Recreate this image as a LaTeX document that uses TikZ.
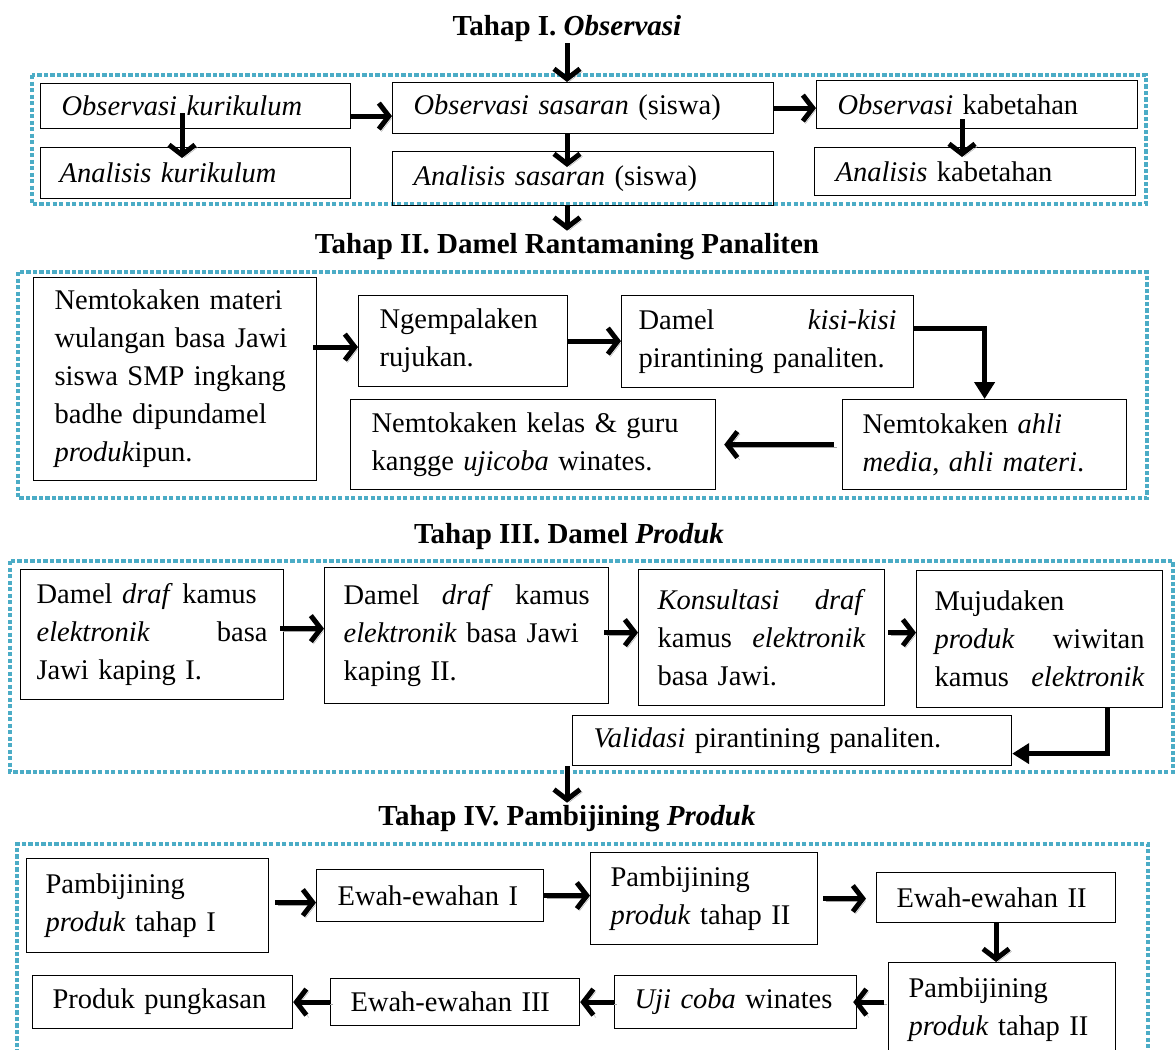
\documentclass[tikz,border=0pt]{standalone}
\usepackage{fontspec}
\setmainfont{Liberation Serif}
\usetikzlibrary{arrows.meta, calc}
\definecolor{biru}{RGB}{75,172,198}

\begin{document}
\begin{tikzpicture}[x=1pt, y=-1pt,
  kotak/.style={draw, line width=1.2pt, anchor=north west, align=left,
    inner xsep=21pt, inner ysep=0pt, font=\fontsize{28.5}{38}\selectfont},
  judul/.style={anchor=base, inner sep=2pt, font=\fontsize{29}{34}\selectfont\bfseries},
  bingkai/.style={draw=biru, line width=3.4pt, dash pattern=on 4.3pt off 2.2pt},
  panah/.style={line width=5pt, -{Straight Barb[length=10pt,width=26pt]},
    preaction={draw=black!35, transform canvas={shift={(2.5pt,-2.5pt)}}}},
  siku/.style={line width=5pt, line join=miter, -{Triangle[length=17pt,width=20pt]}}]

\useasboundingbox (0,0) rectangle (1176,1050);
\clip (0,0) rectangle (1176,1050);

% Bingkai tahap
\draw[bingkai] (32,75) rectangle (1146,204);
\draw[bingkai] (18,272) rectangle (1147,498);
\draw[bingkai] (10,561) rectangle (1173,772);
\draw[bingkai] (17,1060) -- (17,844) -- (1148,844) -- (1148,1060);

% Tahap I
\node[judul] (t1) at (567,35) {Tahap I. \textit{Observasi}};
\node[kotak, text width=268pt, minimum height=45pt] (obskur) at (40,83) {\textit{Observasi kurikulum}};
\node[kotak, text width=272pt, minimum height=51pt, inner xsep=19pt] (anakur) at (40,147) {\textit{Analisis kurikulum}};
\node[kotak, text width=339pt, minimum height=51pt] (obssas) at (392,82) {\textit{Observasi sasaran} (siswa)};
\node[kotak, text width=339pt, minimum height=54pt] (anasas) at (392,151) {\textit{Analisis sasaran} (siswa)};
\node[kotak, text width=279pt, minimum height=48pt] (obskab) at (816,80) {\textit{Observasi} kabetahan};
\node[kotak, text width=279pt, minimum height=48pt] (anakab) at (814,147) {\textit{Analisis} kabetahan};

\draw[panah] (t1.south) -- (t1.south |- obssas.north);
\draw[panah] ([xshift=142pt,yshift=16pt]obskur.south west) -- ([xshift=142pt,yshift=-11pt]anakur.north west);
\draw[panah] ($(obskur.east)+(0,10)$) -- ($(obskur.east -| obssas.west)+(0,10)$);
\draw[panah] (obssas.south -| t1.south) -- ($(anasas.north -| t1.south)+(0,16)$);
\draw[panah] (obssas.east) -- (obssas.east -| obskab.west);
\draw[panah] ([xshift=146pt,yshift=10pt]obskab.south west) -- ([xshift=148pt,yshift=-10pt]anakab.north west);

% Tahap II
\node[judul] (t2) at (567,253) {Tahap II. Damel Rantamaning Panaliten};
\node[kotak, text width=241pt, minimum height=203pt] (materi) at (33,277)
  {Nemtokaken materi\\ wulangan basa Jawi\\ siswa SMP ingkang\\ badhe dipundamel\\ \textit{produk}ipun.};
\node[kotak, text width=167pt, minimum height=91pt] (rujukan) at (358,295) {Ngempalaken\\ rujukan.};
\node[kotak, text width=258pt, minimum height=92pt, inner xsep=17pt] (kisi) at (621,295) {Damel\hfill\textit{kisi-kisi}\\ pirantining panaliten.};
\node[kotak, text width=244pt, minimum height=90pt, inner xsep=20pt] (ahli) at (842,399) {Nemtokaken \textit{ahli}\\ \textit{media}, \textit{ahli materi}.};
\node[kotak, text width=323pt, minimum height=90pt] (kelas) at (350,399) {Nemtokaken kelas \& guru\\ kangge \textit{ujicoba} winates.};

\draw[panah] (t2.north |- anasas.south) -- (t2.north);
\draw[panah] ($(rujukan.west -| materi.east)+(-4,6)$) -- ($(rujukan.west)+(0,6)$);
\draw[panah] (rujukan.east) -- (rujukan.east -| kisi.west);
\draw[siku] ($(kisi.east)+(0,-13)$) -| (ahli.north);
\draw[panah, shorten <=8pt, shorten >=8pt] (ahli.west) -- (kelas.east);

% Tahap III
\node[judul] (t3) at (569,543) {Tahap III. Damel \textit{Produk}};
\node[kotak, text width=231pt, minimum height=130pt, inner xsep=16pt] (drafI) at (20,569)
  {Damel \textit{draf} kamus\\ \textit{elektronik}\hfill basa\\ Jawi kaping I.};
\node[kotak, text width=246pt, minimum height=136pt, inner xsep=19pt] (drafII) at (324,567)
  {Damel\hfill\textit{draf}\hfill kamus\\ \textit{elektronik} basa Jawi\\ kaping II.};
\node[kotak, text width=208pt, minimum height=136pt, inner xsep=19pt] (konsul) at (638,569)
  {\textit{Konsultasi}\hfill\textit{draf}\\ kamus\hfill\textit{elektronik}\\ basa Jawi.};
\node[kotak, text width=210pt, minimum height=137pt, inner xsep=18pt] (mujud) at (916,570)
  {Mujudaken\\ \textit{produk}\hfill wiwitan\\ kamus\hfill\textit{elektronik}};
\node[kotak, text width=397pt, minimum height=50pt] (valid) at (572,715) {\textit{Validasi} pirantining panaliten.};

\draw[panah] ($(drafI.east)+(-4,-6)$) -- ($(drafI.east -| drafII.west)+(0,-6)$);
\draw[panah] ($(drafII.east)+(-5,-3)$) -- ($(drafII.east -| konsul.west)+(0,-3)$);
\draw[panah] ($(konsul.east)+(3,-5)$) -- ($(konsul.east -| mujud.west)+(0,-5)$);
\draw[siku] ($(mujud.south)+(68,0)$) |- ($(valid.east)+(0,13)$);

% Tahap IV
\node[judul] (t4) at (567,825) {Tahap IV. Pambijining \textit{Produk}};
\node[kotak, text width=204pt, minimum height=94pt, inner xsep=19pt] (pamI) at (26,858) {Pambijining\\ \textit{produk} tahap I};
\node[kotak, text width=185pt, minimum height=52pt] (ewahI) at (316,869) {Ewah-ewahan I};
\node[kotak, text width=187pt, minimum height=92pt, inner xsep=20pt] (pamII) at (590,852) {Pambijining\\ \textit{produk} tahap II};
\node[kotak, text width=199pt, minimum height=50pt, inner xsep=20pt] (ewahII) at (876,872) {Ewah-ewahan II};
\node[kotak, text width=187pt, minimum height=95pt, inner xsep=20pt] (pamIII) at (888,962) {Pambijining\\ \textit{produk} tahap II};
\node[kotak, text width=202pt, minimum height=53pt, inner xsep=20pt] (uji) at (614,975) {\textit{Uji coba} winates};
\node[kotak, text width=209pt, minimum height=47pt, inner xsep=20pt] (ewahIII) at (330,978) {Ewah-ewahan III};
\node[kotak, text width=220pt, minimum height=53pt, inner xsep=20pt] (pungkas) at (32,975) {Produk pungkasan};

\draw[panah] (t4.north |- valid.south) -- (t4.north);
\draw[panah] ($(pamI.east)+(6,-3)$) -- ($(pamI.east -| ewahI.west)+(0,-3)$);
\draw[panah] (ewahI.east) -- (ewahI.east -| pamII.west);
\draw[panah] ($(pamII.east)+(5,0)$) -- ($(pamII.east -| ewahII.west)+(-10,0)$);
\draw[panah] (ewahII.south) -- (ewahII.south |- pamIII.north);
\draw[panah] ($(uji.east -| pamIII.west)+(-4,0)$) -- ($(uji.east)+(-4,0)$);
\draw[panah] (uji.west) -- (uji.west -| ewahIII.east);
\draw[panah] (ewahIII.west) -- (ewahIII.west -| pungkas.east);

\end{tikzpicture}
\end{document}
